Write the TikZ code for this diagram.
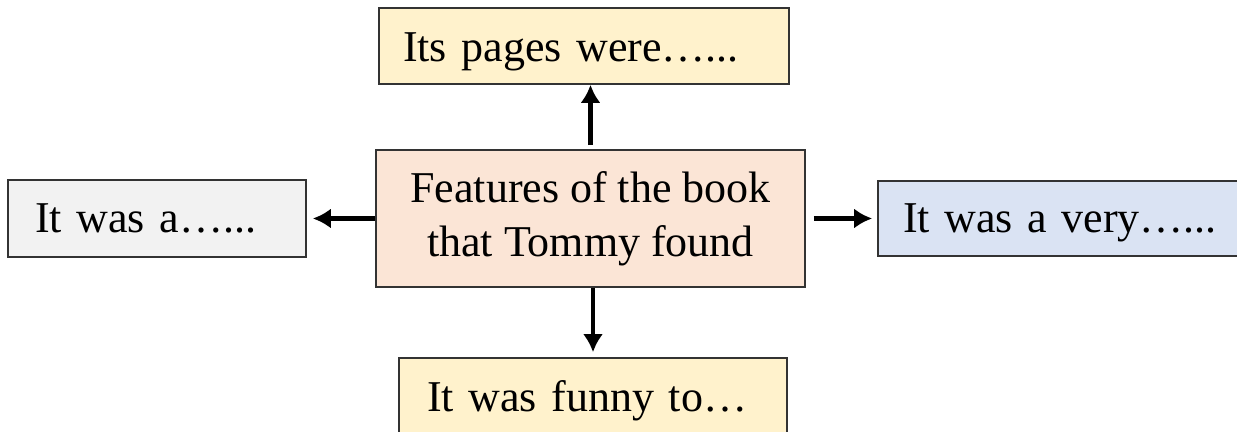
\documentclass[tikz,border=0pt]{standalone}
\usepackage{fontspec}
\setmainfont{Liberation Serif}
\usetikzlibrary{arrows.meta}
\definecolor{yel}{HTML}{FFF2CC}
\definecolor{gry}{HTML}{F2F2F2}
\definecolor{pch}{HTML}{FBE5D6}
\definecolor{blu}{HTML}{DAE3F3}
\definecolor{edge}{HTML}{333333}
\tikzset{
  box/.style={draw=edge, line width=0.8pt, rectangle, align=left, inner ysep=0pt,
    font=\fontsize{22}{27}\selectfont},
  one/.style={text height=#1, text depth=0pt},
  arr/.style={line width=2.1pt, -{Latex[length=9pt,width=10pt]}}
}
\begin{document}
\begin{tikzpicture}[x=0.5pt,y=-0.5pt]
\useasboundingbox (0,0) rectangle (1237,432);
\clip (0,0) rectangle (1237,432);
\node[box, fill=pch, minimum width=214.5pt, minimum height=68.5pt, align=center] (ctr) at (590.5,218.5) {Features of the book\\that Tommy found};
\node[box, fill=yel, one=16pt, inner xsep=12pt, text width=181pt, minimum height=38pt] (top) at (584,46) {Its pages were…...};
\node[box, fill=gry, one=14.5pt, inner xsep=13.5pt, text width=122pt, minimum height=38.5pt] (lft) at (157,218.5) {It was a…...};
\node[box, fill=blu, one=14.5pt, inner xsep=12.5pt, text width=175pt, minimum height=37.5pt] (rgt) at (1078,218.5) {It was a very…...};
\node[box, fill=yel, one=16pt, inner xsep=14pt, text width=166pt, minimum height=38pt] (bot) at (593,396) {It was funny to…};
\draw[arr, shorten <=2pt] (ctr.north) -- (ctr.north |- top.south);
\draw[arr, shorten >=3pt] (ctr.west) -- (lft.east);
\draw[arr, shorten <=4pt, shorten >=2.5pt] (ctr.east) -- (rgt.west);
\draw[arr, shorten >=2.5pt] (ctr.south -| bot.north) -- (bot.north);
\end{tikzpicture}
\end{document}
